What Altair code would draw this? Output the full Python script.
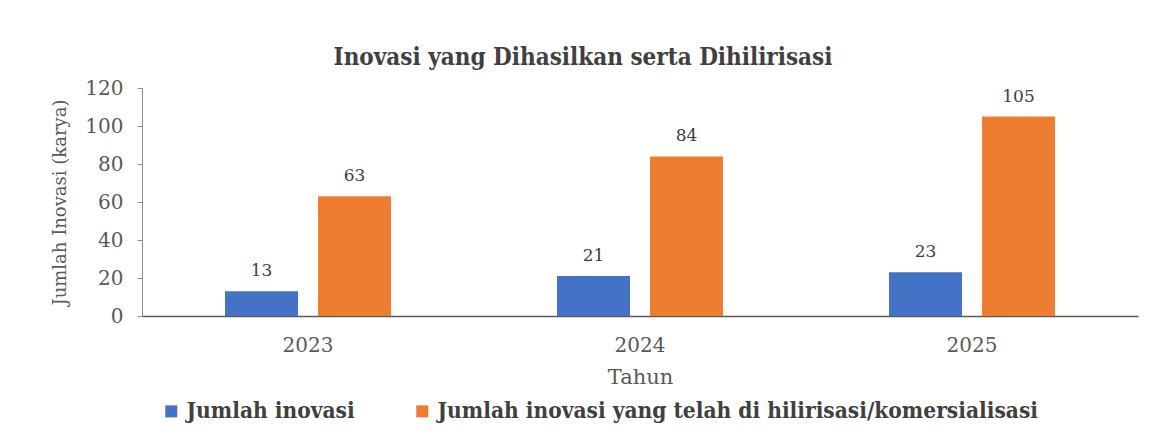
import altair as alt
import pandas as pd

years = ["2023", "2024", "2025"]
series = ["Jumlah inovasi", "Jumlah inovasi yang telah di hilirisasi/komersialisasi"]
jumlah_inovasi = [13, 21, 23]
jumlah_hilirisasi = [63, 84, 105]
colors = ["#4472C4", "#ED7D31"]
y_ticks = [0, 20, 40, 60, 80, 100, 120]

rows = []
for i, y in enumerate(years):
    rows.append({"Tahun": y, "Seri": series[0], "Nilai": jumlah_inovasi[i]})
    rows.append({"Tahun": y, "Seri": series[1], "Nilai": jumlah_hilirisasi[i]})
df = pd.DataFrame(rows)

FONT = "DejaVu Serif"
FONT_C = "DejaVu Serif Condensed"

base = alt.Chart(df).encode(
    x=alt.X("Tahun:N", sort=years,
            scale=alt.Scale(paddingInner=0.5, paddingOuter=0.25),
            axis=alt.Axis(title="Tahun", labelAngle=0, ticks=False,
                          labelFontSize=20, labelPadding=19, titleFontSize=21,
                          titlePadding=11, domainColor="#595959", domainWidth=1.5,
                          labelColor="#595959", titleColor="#595959",
                          titleFontWeight="normal", labelFont=FONT, titleFont=FONT)),
    xOffset=alt.XOffset("Seri:N", sort=series, scale=alt.Scale(paddingInner=0.215)),
    y=alt.Y("Nilai:Q", scale=alt.Scale(domain=[0, 120]),
            axis=alt.Axis(title="Jumlah Inovasi (karya)", values=y_ticks,
                          grid=False, tickSize=5, labelFontSize=20, titleFontSize=18,
                          labelPadding=14, titlePadding=15, domainColor="#8c8c8c",
                          tickColor="#8c8c8c", labelColor="#595959", titleColor="#595959",
                          titleFontWeight="normal", labelFont=FONT, titleFont=FONT)),
)

bars = base.mark_bar().encode(
    color=alt.Color("Seri:N", sort=series,
                    scale=alt.Scale(domain=series, range=colors),
                    legend=alt.Legend(title=None, orient="none", legendX=18, legendY=312,
                                      direction="horizontal", padding=0,
                                      symbolType="square", symbolSize=144,
                                      symbolStrokeWidth=0, labelFont=FONT_C,
                                      labelFontSize=22.5, labelFontWeight="bold",
                                      labelColor="#404040", columnPadding=56,
                                      labelOffset=4, labelLimit=0)),
)

labels = base.mark_text(dy=-20, font=FONT, fontSize=17, color="#404040").encode(
    text=alt.Text("Nilai:Q"),
)

chart = alt.layer(bars, labels).properties(
    width=996,
    height=228,
    autosize=alt.AutoSizeParams(type="none"),
    padding={"left": 134, "top": 80, "right": 22, "bottom": 122},
    title=alt.TitleParams("Inovasi yang Dihasilkan serta Dihilirisasi", font=FONT_C,
                          fontSize=24, fontWeight="bold", color="#404040",
                          anchor="middle", dx=-57, offset=8),
).configure_view(stroke=None)

chart.save("out.html", embed_options={"renderer": "svg", "actions": False})
